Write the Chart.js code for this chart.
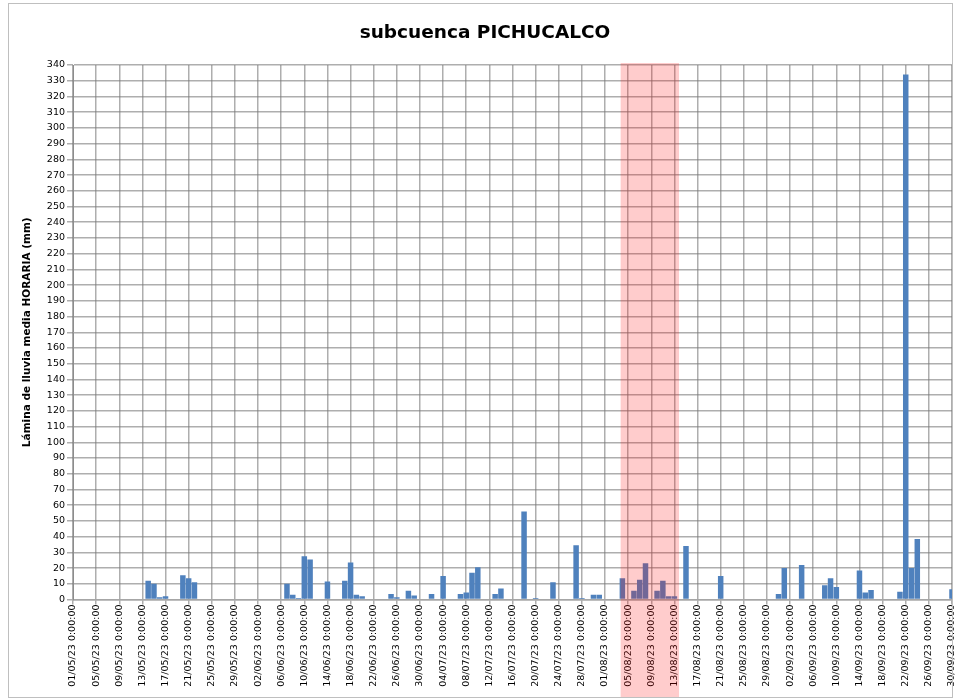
<!DOCTYPE html>
<html>
<head>
<meta charset="utf-8">
<title>subcuenca PICHUCALCO</title>
<script src="https://cdn.jsdelivr.net/npm/chart.js@4.4.1/dist/chart.umd.min.js"></script>
<style>
  html, body { margin: 0; padding: 0; background: #fff; }
  #wrap { position: relative; width: 956px; height: 700px; }
</style>
</head>
<body>
<div id="wrap"><canvas id="rainChart" width="956" height="700"></canvas></div>
<script>
// daily mean rainfall (mm), one value per day, 01/05/2023 .. 30/09/2023
const mayRain = [0,0,0,0,0,0,0,0,0,0,0,0,0,12,10,1.5,2,0,0,15.5,13.5,11,0,0,0,0,0,0,0,0,0];
const junRain = [0,0,0,0,0,0,10,3,1,27.5,25.5,0,0,11.5,0,0,12,23.5,3,2,0,0,0,0,3.5,1.5,0,5.5,2.5,0];
const julRain = [0,3.5,0,15,0,0,3.5,4.5,17,20.5,0,0,3.5,7,0,0,0,56,0,1,0,0,11,0,0,0,34.5,1,0,3,3];
const augRain = [0,0,0,13.5,0,5.5,12.5,23,0.5,5.5,12,2,2,0,34,0,0,0,0,0,15,0,0,0,0,0,0,0,0,0,3.5];
const sepRain = [20,0,0,22,0,0,0,9,13.5,8,0,0,0,18.5,4.5,6,0,0,0,0,5,334,20,38.5,0,0,0,0,0,6.5];

// one label every 4 days
const tickLabels = [
  "01/05/23 0:00:00", "05/05/23 0:00:00", "09/05/23 0:00:00", "13/05/23 0:00:00",
  "17/05/23 0:00:00", "21/05/23 0:00:00", "25/05/23 0:00:00", "29/05/23 0:00:00",
  "02/06/23 0:00:00", "06/06/23 0:00:00", "10/06/23 0:00:00", "14/06/23 0:00:00",
  "18/06/23 0:00:00", "22/06/23 0:00:00", "26/06/23 0:00:00", "30/06/23 0:00:00",
  "04/07/23 0:00:00", "08/07/23 0:00:00", "12/07/23 0:00:00", "16/07/23 0:00:00",
  "20/07/23 0:00:00", "24/07/23 0:00:00", "28/07/23 0:00:00", "01/08/23 0:00:00",
  "05/08/23 0:00:00", "09/08/23 0:00:00", "13/08/23 0:00:00", "17/08/23 0:00:00",
  "21/08/23 0:00:00", "25/08/23 0:00:00", "29/08/23 0:00:00", "02/09/23 0:00:00",
  "06/09/23 0:00:00", "10/09/23 0:00:00", "14/09/23 0:00:00", "18/09/23 0:00:00",
  "22/09/23 0:00:00", "26/09/23 0:00:00", "30/09/23 0:00:00"
];

// highlighted period, in days since 01/05
const bandStart = 94.7;
const bandEnd = 104.8;

const dailyPoints = [];
[mayRain, junRain, julRain, augRain, sepRain].forEach(month => {
  month.forEach(v => dailyPoints.push({ x: dailyPoints.length, y: v }));
});

const gridColor = "rgba(120, 120, 120, 0.6)";
const tickFont = { family: "DejaVu Sans", size: 9.5 };

// pink band over the highlighted days + outer frame
const overlay = {
  id: "overlay",
  afterDraw(chart) {
    const { ctx, chartArea, scales } = chart;
    const x1 = scales.x.getPixelForValue(bandStart);
    const x2 = scales.x.getPixelForValue(bandEnd);
    ctx.save();
    ctx.fillStyle = "rgba(255, 0, 0, 0.2)";
    ctx.fillRect(x1, chartArea.top - 2, x2 - x1, 698 - chartArea.top + 2);
    ctx.strokeStyle = "#bfbfbf";
    ctx.lineWidth = 1;
    ctx.strokeRect(8.5, 3.5, 944, 694);
    ctx.restore();
  }
};

new Chart(document.getElementById("rainChart"), {
  type: "bar",
  data: {
    datasets: [{
      data: dailyPoints,
      backgroundColor: "#4f81bd",
      borderWidth: 0,
      categoryPercentage: 1,
      barPercentage: 0.95
    }]
  },
  options: {
    responsive: false,
    animation: false,
    layout: { padding: { left: 18, right: 4, top: 0, bottom: 0 } },
    plugins: {
      legend: { display: false },
      tooltip: { enabled: false },
      title: {
        display: true,
        text: "subcuenca PICHUCALCO",
        color: "#000",
        font: { family: "DejaVu Sans", size: 18.5, weight: "bold" },
        padding: { top: 22, bottom: 20.8 }
      }
    },
    scales: {
      x: {
        type: "linear",
        min: 0,
        max: 152,
        offset: false,
        grid: { color: gridColor, lineWidth: 1.5, tickLength: 5, offset: false },
        border: { color: "#a6a6a6", width: 1.5 },
        ticks: {
          stepSize: 4,
          autoSkip: false,
          maxRotation: 90,
          minRotation: 90,
          padding: 0,
          color: "#000",
          font: tickFont,
          callback: (v, i) => tickLabels[i]
        },
        afterFit(scale) {
          scale.height = 100.5;
          scale.paddingLeft = 0;
          scale.paddingRight = 0;
        }
      },
      y: {
        min: 0,
        max: 340,
        grid: { color: gridColor, lineWidth: 1.5, tickLength: 6 },
        border: { color: "#8c8c8c", width: 1 },
        ticks: { stepSize: 10, padding: 2, color: "#000", font: tickFont },
        title: {
          display: true,
          text: "Lámina de lluvia media HORARIA (mm)",
          color: "#000",
          font: { family: "DejaVu Sans", size: 10.5, weight: "bold" },
          padding: { top: 2.7, bottom: 0 }
        },
        afterFit(scale) {
          scale.width = 55;
          scale.paddingTop = 0;
          scale.paddingBottom = 0;
        }
      }
    }
  },
  plugins: [overlay]
});
</script>
</body>
</html>
